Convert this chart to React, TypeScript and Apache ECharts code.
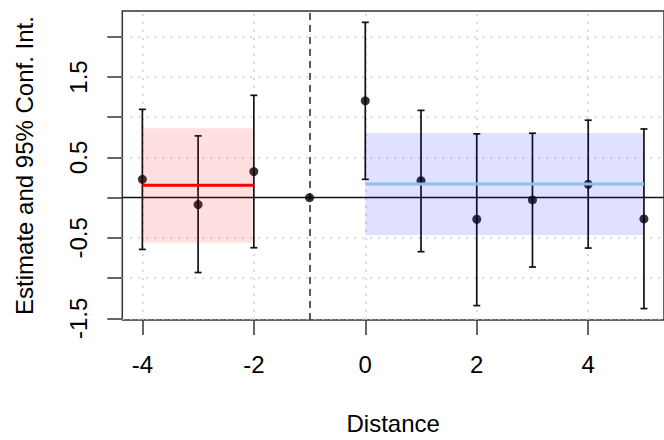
import React, { useEffect, useRef } from "react";
import * as echarts from "echarts";

// ---- data ----
const distance = [-4, -3, -2, -1, 0, 1, 2, 3, 4, 5];
const estimate = [0.228, -0.085, 0.325, 0, 1.204, 0.211, -0.268, -0.028, 0.167, -0.264];
const ciLower = [-0.643, -0.93, -0.622, null, 0.228, -0.671, -1.341, -0.862, -0.626, -1.378];
const ciUpper = [1.098, 0.768, 1.272, null, 2.179, 1.085, 0.793, 0.801, 0.963, 0.854];

const preRange = [-4, -2];
const preMean = 0.155;
const preBand = [-0.557, 0.862];
const postRange = [0, 5];
const postMean = 0.171;
const postBand = [-0.463, 0.805];

const referencePeriod = -1;
const xTicks = [-4, -2, 0, 2, 4];
const yTicks = [-1.5, -1, -0.5, 0, 0.5, 1, 1.5, 2];
const yLabels = [-1.5, -0.5, 0.5, 1.5];
const xGrid = [-4, -2, 0, 2, 4];
const yGrid = [-1.5, -1, -0.5, 0.5, 1, 1.5, 2];

const FONT = "'Liberation Sans', Arial, Helvetica, sans-serif";

export default function App() {
  const ref = useRef<HTMLDivElement>(null);
  useEffect(() => {
    if (!ref.current) return;
    const chart = echarts.init(ref.current, null, { renderer: "svg" });

    const points = distance.map((d, i) => [d, estimate[i]]);
    const bars = distance
      .map((d, i) => [d, ciLower[i], ciUpper[i]])
      .filter((r) => r[1] !== null && r[2] !== null);
    const bands = [
      [preRange[0], preRange[1], preBand[0], preBand[1], 0],
      [postRange[0], postRange[1], postBand[0], postBand[1], 1],
    ];
    const bandColors = ["rgba(255,0,0,0.12)", "rgba(0,0,255,0.12)"];

    const option: any = {
      animation: false,
      backgroundColor: "#ffffff",
      grid: {
        left: 122.3,
        top: 11,
        right: -6.6,
        bottom: 114.4,
        show: true,
        borderColor: "#333",
        borderWidth: 1.5,
        backgroundColor: "transparent",
      },
      xAxis: {
        type: "value",
        min: -4.36,
        max: 5.36,
        name: "Distance",
        nameLocation: "middle",
        nameGap: 91,
        nameTextStyle: { fontFamily: FONT, fontSize: 24, color: "#000" },
        axisLine: { show: false, onZero: false },
        splitLine: { show: false },
        axisTick: {
          show: true,
          length: 15,
          customValues: xTicks,
          lineStyle: { color: "#333", width: 1.5 },
        },
        axisLabel: {
          customValues: xTicks,
          margin: 32,
          fontFamily: FONT,
          fontSize: 24,
          color: "#000",
        },
      },
      yAxis: {
        type: "value",
        min: -1.52,
        max: 2.32,
        name: "Estimate and 95% Conf. Int.",
        nameLocation: "middle",
        nameRotate: 90,
        nameGap: 86,
        nameTextStyle: { fontFamily: FONT, fontSize: 24, color: "#000" },
        axisLine: { show: false, onZero: false },
        splitLine: { show: false },
        axisTick: {
          show: true,
          length: 15,
          customValues: yTicks,
          lineStyle: { color: "#333", width: 1.5 },
        },
        axisLabel: {
          customValues: yLabels,
          rotate: 90,
          margin: 32,
          fontFamily: FONT,
          fontSize: 24,
          color: "#000",
        },
      },
      series: [
        {
          type: "line",
          data: [],
          z: 1,
          silent: true,
          markLine: {
            z: 1,
            silent: true,
            symbol: ["none", "none"],
            label: { show: false },
            lineStyle: { color: "#cfcfcf", width: 1.5, type: [2, 6] },
            data: [
              ...xGrid.map((v) => ({ xAxis: v })),
              ...yGrid.map((v) => ({ yAxis: v })),
            ],
          },
        },
        {
          type: "line",
          data: [],
          z: 2,
          silent: true,
          markLine: {
            z: 2,
            silent: true,
            symbol: ["none", "none"],
            label: { show: false },
            data: [
              { yAxis: 0, lineStyle: { color: "#111", width: 1.4, type: "solid" } },
              { xAxis: referencePeriod, lineStyle: { color: "#333", width: 1.6, type: [7, 5] } },
            ],
          },
        },
        {
          type: "custom",
          z: 3,
          data: bars,
          encode: { x: 0, y: [1, 2] },
          renderItem: (params: any, api: any) => {
            const x = api.value(0);
            const lo = api.coord([x, api.value(1)]);
            const hi = api.coord([x, api.value(2)]);
            const cap = 3.5;
            const st = { stroke: "#111", lineWidth: 1.7 };
            return {
              type: "group",
              children: [
                { type: "line", shape: { x1: lo[0], y1: lo[1], x2: hi[0], y2: hi[1] }, style: st },
                { type: "line", shape: { x1: hi[0] - cap, y1: hi[1], x2: hi[0] + cap, y2: hi[1] }, style: st },
                { type: "line", shape: { x1: lo[0] - cap, y1: lo[1], x2: lo[0] + cap, y2: lo[1] }, style: st },
              ],
            };
          },
        },
        {
          type: "scatter",
          z: 4,
          data: points,
          symbol: "circle",
          symbolSize: 9,
          itemStyle: { color: "#000" },
        },
        {
          type: "custom",
          z: 5,
          data: bands,
          encode: { x: [0, 1], y: [2, 3] },
          renderItem: (params: any, api: any) => {
            const p0 = api.coord([api.value(0), api.value(3)]);
            const p1 = api.coord([api.value(1), api.value(2)]);
            return {
              type: "rect",
              shape: { x: p0[0], y: p0[1], width: p1[0] - p0[0], height: p1[1] - p0[1] },
              style: { fill: bandColors[api.value(4)] },
            };
          },
        },
        {
          type: "line",
          z: 6,
          data: [
            [preRange[0], preMean],
            [preRange[1], preMean],
          ],
          symbol: "none",
          lineStyle: { color: "#ff0000", width: 3 },
        },
        {
          type: "line",
          z: 6,
          data: [
            [postRange[0], postMean],
            [postRange[1], postMean],
          ],
          symbol: "none",
          lineStyle: { color: "#8cc0e6", width: 3 },
        },
      ],
    };
    chart.setOption(option);
    return () => chart.dispose();
  }, []);
  return (
    <div
      ref={ref}
      style={{ position: "fixed", left: 0, top: 0, width: 664, height: 440 }}
    />
  );
}
